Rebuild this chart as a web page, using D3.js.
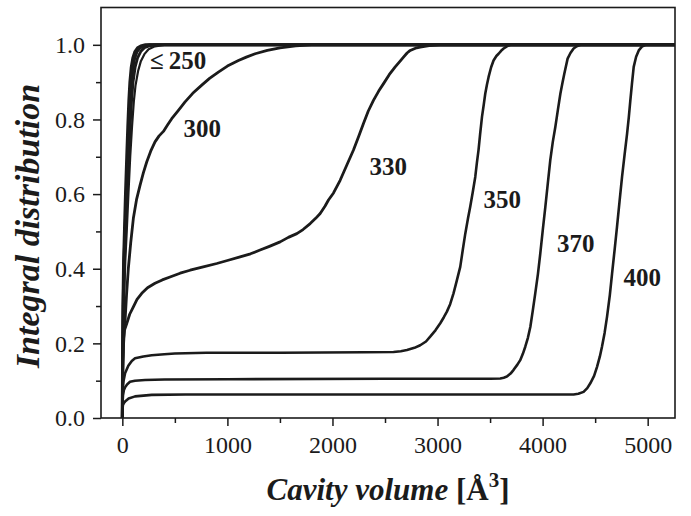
<!DOCTYPE html>
<html>
<head>
<meta charset="utf-8">
<script src="https://cdn.jsdelivr.net/npm/d3@7/dist/d3.min.js"></script>
<style>
  body { margin: 0; background: #fff; }
  svg { display: block; }
  text { font-family: "Liberation Serif", "Times New Roman", serif; fill: #1b1b1b; }
</style>
</head>
<body>
<svg id="chart" width="691" height="516"></svg>
<script>
// Axis ticks
const xTicks = [0, 1000, 2000, 3000, 4000, 5000];
const xMinorTicks = [500, 1500, 2500, 3500, 4500];
const yTicks = [0, 0.2, 0.4, 0.6, 0.8, 1.0];
const yMinorTicks = [0.1, 0.3, 0.5, 0.7, 0.9];

// Integral distribution of cavity volume, [volume (Å^3), fraction]
const curve250a = [[0,0],[2,0.15],[6,0.3],[12,0.42],[20,0.5],[30,0.6],[42,0.7],[52,0.78],[62,0.85],[72,0.9],[85,0.94],[100,0.965],[120,0.982],[145,0.992],[175,0.997],[220,1],[5260,1]];
const curve250b = [[0,0],[3,0.15],[8,0.3],[16,0.42],[26,0.5],[38,0.6],[50,0.7],[62,0.78],[73,0.85],[85,0.9],[100,0.94],[118,0.965],[140,0.982],[170,0.992],[205,0.997],[260,1],[5260,1]];
const curve250c = [[0,0],[4,0.15],[10,0.3],[20,0.42],[32,0.5],[46,0.6],[60,0.7],[74,0.78],[88,0.85],[102,0.9],[122,0.94],[145,0.965],[175,0.982],[210,0.992],[255,0.997],[320,1],[5260,1]];
const curve250d = [[0,0],[5,0.15],[14,0.3],[28,0.42],[42,0.5],[58,0.6],[75,0.7],[92,0.78],[110,0.85],[125,0.89],[150,0.93],[175,0.955],[210,0.975],[250,0.988],[310,0.996],[400,1],[5260,1]];
const curve300 = [[0,0],[2,0.08],[5,0.14],[10,0.19],[18,0.23],[26,0.26],[40,0.33],[57,0.4],[80,0.47],[105,0.535],[135,0.585],[169,0.624],[200,0.657],[232,0.686],[270,0.715],[311,0.74],[350,0.756],[391,0.768],[430,0.785],[470,0.802],[530,0.823],[597,0.847],[670,0.87],[756,0.892],[830,0.91],[914,0.927],[1000,0.943],[1105,0.958],[1180,0.967],[1264,0.976],[1380,0.985],[1500,0.992],[1650,0.997],[1800,1],[5260,1]];
const curve330 = [[0,0],[2,0.1],[5,0.15],[10,0.209],[20,0.235],[42,0.253],[70,0.278],[105,0.298],[140,0.318],[185,0.334],[240,0.349],[311,0.361],[380,0.37],[454,0.378],[550,0.388],[645,0.396],[770,0.405],[899,0.414],[1000,0.422],[1121,0.432],[1220,0.44],[1311,0.45],[1400,0.46],[1502,0.472],[1580,0.484],[1661,0.494],[1720,0.505],[1788,0.521],[1840,0.535],[1883,0.548],[1930,0.568],[1962,0.584],[2010,0.603],[2073,0.637],[2140,0.68],[2200,0.718],[2250,0.755],[2295,0.789],[2340,0.822],[2390,0.851],[2440,0.876],[2486,0.896],[2540,0.92],[2597,0.941],[2640,0.955],[2676,0.967],[2710,0.978],[2740,0.985],[2790,0.991],[2835,0.994],[2920,0.998],[3025,1],[5260,1]];
const curve350 = [[0,0],[2,0.05],[5,0.08],[12,0.1],[26,0.12],[57,0.14],[90,0.153],[121,0.16],[200,0.165],[280,0.168],[400,0.171],[500,0.173],[800,0.175],[1500,0.175],[2300,0.176],[2581,0.177],[2650,0.179],[2709,0.182],[2780,0.188],[2835,0.195],[2890,0.205],[2930,0.218],[2980,0.235],[3026,0.254],[3060,0.27],[3089,0.285],[3120,0.305],[3152,0.334],[3185,0.37],[3216,0.405],[3240,0.45],[3264,0.494],[3290,0.535],[3311,0.566],[3335,0.605],[3359,0.646],[3375,0.685],[3390,0.718],[3405,0.76],[3423,0.807],[3440,0.84],[3454,0.869],[3470,0.893],[3486,0.914],[3510,0.94],[3533,0.958],[3560,0.97],[3581,0.976],[3605,0.984],[3629,0.99],[3660,0.996],[3692,1],[5260,1]];
const curve370 = [[0,0],[2,0.04],[6,0.06],[15,0.075],[26,0.082],[45,0.09],[73,0.097],[120,0.1],[216,0.102],[400,0.103],[1000,0.104],[2500,0.105],[3500,0.105],[3597,0.106],[3630,0.108],[3660,0.111],[3695,0.119],[3724,0.129],[3760,0.143],[3787,0.155],[3812,0.172],[3835,0.191],[3860,0.215],[3883,0.244],[3905,0.285],[3930,0.334],[3955,0.385],[3978,0.441],[4002,0.505],[4026,0.566],[4050,0.63],[4073,0.691],[4097,0.74],[4121,0.78],[4145,0.825],[4169,0.869],[4190,0.9],[4207,0.923],[4238,0.963],[4265,0.978],[4295,0.99],[4325,0.996],[4359,1],[5260,1]];
const curve400 = [[0,0],[2,0.025],[6,0.035],[15,0.04],[26,0.044],[60,0.052],[121,0.058],[280,0.062],[600,0.063],[4295,0.063],[4340,0.065],[4390,0.07],[4425,0.08],[4454,0.093],[4490,0.113],[4518,0.137],[4545,0.165],[4565,0.191],[4590,0.228],[4613,0.271],[4640,0.33],[4661,0.387],[4685,0.45],[4708,0.512],[4732,0.58],[4756,0.646],[4780,0.705],[4804,0.762],[4820,0.805],[4835,0.851],[4850,0.895],[4867,0.941],[4890,0.968],[4915,0.985],[4945,0.995],[4978,1],[5260,1]];

const curveLabels = ["\u2264\u2009250", "300", "330", "350", "370", "400"];

const curves = [
  { data: curve250a, width: 3 },
  { data: curve250b, width: 3 },
  { data: curve250c, width: 2.8 },
  { data: curve250d, width: 2.2 },
  { data: curve300, width: 2.8 },
  { data: curve330, width: 2.8 },
  { data: curve350, width: 2.6 },
  { data: curve370, width: 2.6 },
  { data: curve400, width: 2.6 }
];

// Where each curve label sits, in data units [volume, fraction] of its left baseline
const labelAnchors = [[264, 0.936], [581, 0.753], [2352, 0.651], [3438, 0.564], [4137, 0.445], [4771, 0.354]];

const svg = d3.select("#chart");
const plot = { left: 101, right: 675, top: 7.5, bottom: 418 };
const ink = "#1b1b1b";

const x = d3.scaleLinear().domain([-203, 5260]).range([plot.left, plot.right]);
const y = d3.scaleLinear().domain([0, 1.1]).range([plot.bottom, plot.top]);

svg.append("clipPath").attr("id", "plot-area")
  .append("rect")
  .attr("x", plot.left).attr("y", plot.top)
  .attr("width", plot.right - plot.left).attr("height", plot.bottom - plot.top);

// Minor ticks
svg.append("g")
  .attr("transform", `translate(0,${plot.bottom})`)
  .call(d3.axisBottom(x).tickValues(xMinorTicks).tickSize(5).tickFormat("").tickSizeOuter(0))
  .call(g => g.select(".domain").remove())
  .call(g => g.selectAll("line").attr("stroke", ink).attr("stroke-width", 1.5));
svg.append("g")
  .attr("transform", `translate(${plot.left},0)`)
  .call(d3.axisLeft(y).tickValues(yMinorTicks).tickSize(5).tickFormat("").tickSizeOuter(0))
  .call(g => g.select(".domain").remove())
  .call(g => g.selectAll("line").attr("stroke", ink).attr("stroke-width", 1.5));

// Major ticks and labels
svg.append("g")
  .attr("transform", `translate(0,${plot.bottom})`)
  .call(d3.axisBottom(x).tickValues(xTicks).tickSize(8).tickPadding(10).tickFormat(d3.format("d")).tickSizeOuter(0))
  .call(g => g.select(".domain").remove())
  .call(g => g.selectAll("line").attr("stroke", ink).attr("stroke-width", 1.5))
  .call(g => g.selectAll("text").attr("font-size", 24).attr("font-family", null).attr("fill", ink));
svg.append("g")
  .attr("transform", `translate(${plot.left},0)`)
  .call(d3.axisLeft(y).tickValues(yTicks).tickSize(8).tickPadding(8).tickFormat(d3.format(".1f")).tickSizeOuter(0))
  .call(g => g.select(".domain").remove())
  .call(g => g.selectAll("line").attr("stroke", ink).attr("stroke-width", 1.5))
  .call(g => g.selectAll("text").attr("font-size", 24).attr("font-family", null).attr("fill", ink));

// Curves
const line = d3.line().x(d => x(d[0])).y(d => y(d[1]));
svg.append("g").attr("clip-path", "url(#plot-area)")
  .selectAll("path")
  .data(curves)
  .join("path")
  .attr("d", d => line(d.data))
  .attr("fill", "none")
  .attr("stroke", ink)
  .attr("stroke-width", d => d.width)
  .attr("stroke-linejoin", "round")
  .attr("stroke-linecap", "round");

// Frame
svg.append("rect")
  .attr("x", plot.left).attr("y", plot.top)
  .attr("width", plot.right - plot.left).attr("height", plot.bottom - plot.top)
  .attr("fill", "none").attr("stroke", ink).attr("stroke-width", 1.6);

// Curve labels
svg.append("g")
  .selectAll("text")
  .data(curveLabels)
  .join("text")
  .attr("x", (d, i) => x(labelAnchors[i][0]))
  .attr("y", (d, i) => y(labelAnchors[i][1]))
  .attr("font-size", 25)
  .attr("font-weight", "bold")
  .text(d => d);

// Axis titles
svg.append("text")
  .attr("transform", "translate(39,226) rotate(-90)")
  .attr("text-anchor", "middle")
  .attr("font-size", 34)
  .attr("font-weight", "bold")
  .attr("font-style", "italic")
  .text("Integral distribution");

const xTitle = svg.append("text")
  .attr("x", (plot.left + plot.right) / 2)
  .attr("y", 500)
  .attr("text-anchor", "middle")
  .attr("font-size", 31)
  .attr("font-weight", "bold");
xTitle.append("tspan").attr("font-style", "italic").text("Cavity volume");
xTitle.append("tspan").text(" [\u00C5");
xTitle.append("tspan").attr("font-size", 21).attr("dy", -13).text("3");
xTitle.append("tspan").attr("dy", 13).text("]");
</script>
</body>
</html>
